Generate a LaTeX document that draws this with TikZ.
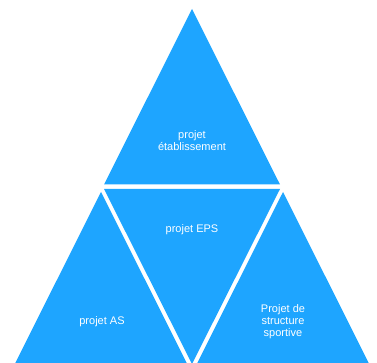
\documentclass[tikz,border=0pt]{standalone}
\usepackage{fontspec}
\setmainfont{Liberation Sans}
\definecolor{triblue}{RGB}{30,165,255}
\begin{document}
\begin{tikzpicture}[x=1pt,y=-1pt,
  tri/.style={fill=triblue,draw=none},
  lbl/.style={text=white,align=center,font=\fontsize{11}{12}\selectfont,inner sep=0pt}]
\useasboundingbox (0,0) rectangle (377,363);
\begin{scope}
\clip (0,0) rectangle (377,363);
% top
\path[tri] (192,9) -- (280,184.5) -- (104,184.5) -- cycle;
% middle inverted
\path[tri] (104,189) -- (280,189) -- (192,364) -- cycle;
% left
\path[tri] (101,192) -- (189,367.5) -- (13,367.5) -- cycle;
% right
\path[tri] (283,192) -- (371,367.5) -- (195,367.5) -- cycle;
\end{scope}
\node[lbl] (top) at (192,141) {projet\\établissement};
\node[lbl] (eps) at (192,230) {projet EPS};
\node[lbl] (as) at (102,322) {projet AS};
\node[lbl] (struct) at (283,322) {Projet de\\structure\\sportive};
\end{tikzpicture}
\end{document}
